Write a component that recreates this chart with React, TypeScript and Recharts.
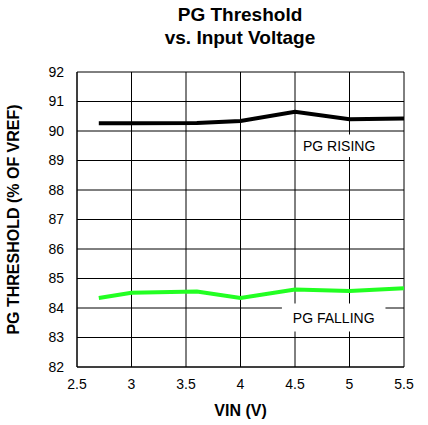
import { LineChart, Line, XAxis, YAxis, CartesianGrid, ReferenceArea, Label } from 'recharts';

const vin = [2.7, 3.0, 3.6, 4.0, 4.5, 5.0, 5.5];
const pgRising = [90.26, 90.26, 90.27, 90.34, 90.65, 90.4, 90.42];
const pgFalling = [84.34, 84.52, 84.56, 84.34, 84.63, 84.58, 84.67];

const xTicks = [2.5, 3, 3.5, 4, 4.5, 5, 5.5];
const yTicks = [82, 83, 84, 85, 86, 87, 88, 89, 90, 91, 92];

const data = vin.map((v, i) => ({ vin: v, rising: pgRising[i], falling: pgFalling[i] }));

const FONT = 'Liberation Sans, Arial, sans-serif';

export default function App() {
  return (
    <div style={{ position: 'absolute', left: 0, top: 0, width: 428, height: 425, background: '#fff', fontFamily: FONT }}>
      <div
        style={{
          position: 'absolute',
          left: 120,
          width: 240,
          top: 3,
          textAlign: 'center',
          fontWeight: 'bold',
          fontSize: 19,
          lineHeight: '23px',
          color: '#000',
        }}
      >
        PG Threshold
        <br />
        vs. Input Voltage
      </div>
      <LineChart width={428} height={425} data={data} margin={{ top: 72, right: 24, bottom: 0, left: 0 }}>
        <CartesianGrid stroke="#000" strokeWidth={1} horizontalValues={yTicks} verticalValues={xTicks} />
        <XAxis
          dataKey="vin"
          type="number"
          domain={[2.5, 5.5]}
          ticks={xTicks}
          height={58}
          tickLine={false}
          axisLine={{ stroke: '#000' }}
          tickMargin={6}
          tick={{ fill: '#000', fontSize: 14, fontFamily: FONT }}
        >
          <Label value="VIN (V)" position="insideBottom" offset={9} style={{ fontWeight: 'bold', fontSize: 16, fill: '#000', fontFamily: FONT }} />
        </XAxis>
        <YAxis
          type="number"
          domain={[82, 92]}
          ticks={yTicks}
          width={77}
          tickLine={false}
          axisLine={{ stroke: '#000' }}
          tickMargin={7}
          tick={{ fill: '#000', fontSize: 14, fontFamily: FONT }}
        >
          <Label
            value="PG THRESHOLD (% OF VREF)"
            angle={-90}
            position="insideLeft"
            offset={13}
            style={{ textAnchor: 'middle', fontWeight: 'bold', fontSize: 16, fill: '#000', fontFamily: FONT }}
          />
        </YAxis>
        <ReferenceArea x1={4.55} x2={5.26} y1={89.12} y2={89.88} fill="#fff" fillOpacity={1} stroke="none">
          <Label value="PG RISING" position="center" style={{ fontSize: 14, fill: '#000', fontFamily: FONT }} />
        </ReferenceArea>
        <ReferenceArea x1={4.38} x2={5.33} y1={83.2} y2={84.15} fill="#fff" fillOpacity={1} stroke="none">
          <Label value="PG FALLING" position="center" style={{ fontSize: 14, fill: '#000', fontFamily: FONT }} />
        </ReferenceArea>
        <Line dataKey="rising" stroke="#000" strokeWidth={4} dot={false} isAnimationActive={false} />
        <Line dataKey="falling" stroke="#22ff22" strokeWidth={4} dot={false} isAnimationActive={false} />
      </LineChart>
    </div>
  );
}
